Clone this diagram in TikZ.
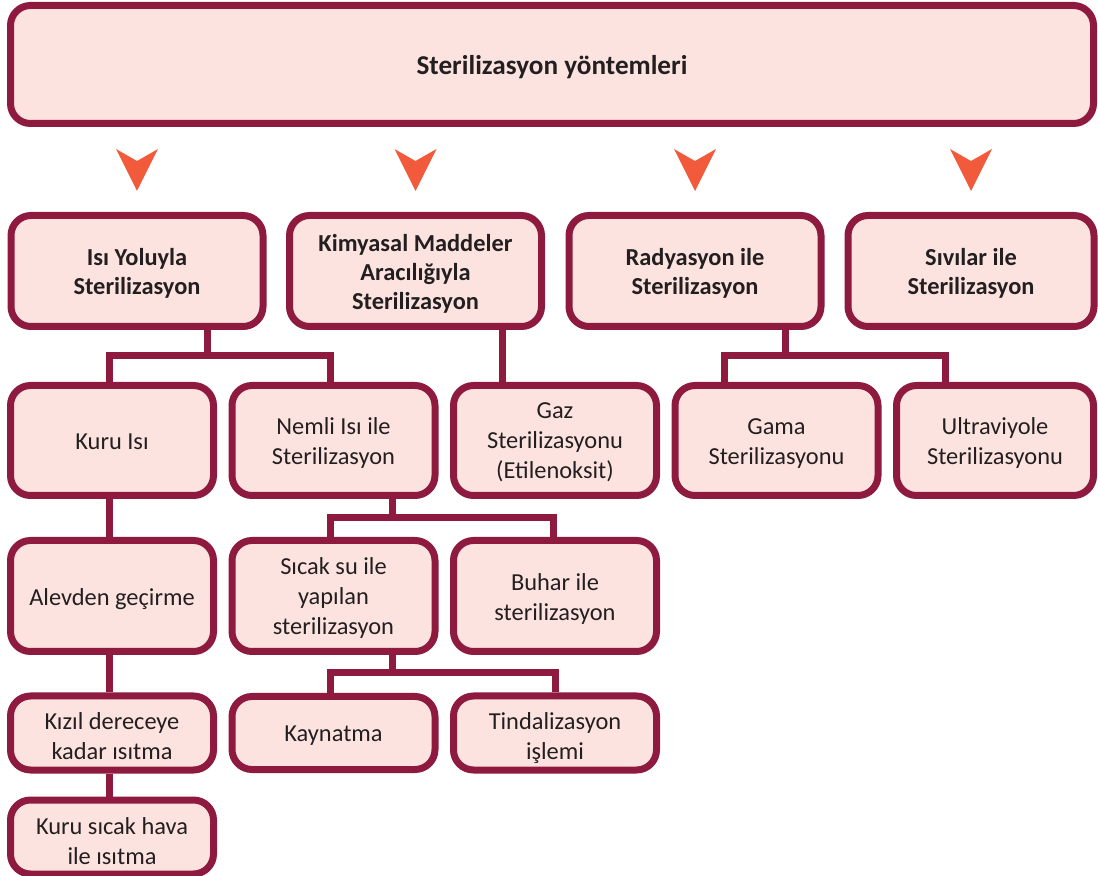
\documentclass[tikz,border=0pt]{standalone}
\usepackage{fontspec}
\setmainfont{Carlito}
\usepackage{tikz}
\usetikzlibrary{positioning,calc}
\definecolor{stmaroon}{HTML}{8E1A40}
\definecolor{stpink}{HTML}{FCE3E0}
\definecolor{storange}{HTML}{F15A3B}
\definecolor{sttext}{HTML}{231F20}
\tikzset{
  st/rows/.code={\def\strowh{#1}},
  st/box/.style={draw=stmaroon, fill=stpink, line width=3.5pt, rounded corners=10pt, align=center, inner sep=2pt, text=sttext,
    minimum width=101.5pt, minimum height=55pt, font=\fontsize{12.2}{15}\selectfont, st/rows=27.5pt,
    execute at begin node={\rule{0pt}{\strowh}}, execute at end node={\rule[-3pt]{0pt}{3pt}}},
  st/low/.style={st/box, minimum height=36.5pt, st/rows=30pt},
  st/head/.style={st/box, minimum width=126pt, minimum height=55.5pt, st/rows=27pt, font=\fontsize{12.2}{14.5}\selectfont\bfseries},
  st/title/.style={st/box, minimum width=541.5pt, minimum height=59pt, st/rows=13.5pt, font=\fontsize{13.6}{16}\selectfont\bfseries},
  st/line/.style={draw=stmaroon, line width=3.5pt},
  st/mark/.style={fill=storange}
}
\newcommand{\stmark}[1]{\fill[st/mark] (#1) ++(-21,0) -- ++(21,12) -- ++(21,-12) -- ++(-21,42) -- cycle;}

\begin{document}
\begin{tikzpicture}[x=0.5pt, y=-0.5pt]
  \useasboundingbox (0,0) rectangle (1098,876);
  \node[st/title] (top) at (552,64.5) {Sterilizasyon yöntemleri};

  \node[st/head] (isi) at (137,271) {Isı Yoluyla\\Sterilizasyon};
  \node[st/head, st/rows=41.5pt] (kim) at (415.5,271) {Kimyasal Maddeler\\Aracılığıyla\\Sterilizasyon};
  \node[st/head] (rad) at (695,271) {Radyasyon ile\\Sterilizasyon};
  \node[st/head, minimum width=123pt] (siv) at (971,271) {Sıvılar ile\\Sterilizasyon};
  \foreach \n in {isi,kim,rad,siv} {
    \coordinate (m-\n) at (\n.north |- 0,149);
    \stmark{m-\n}
  }

  \node[st/box, st/rows=12.5pt] (kuru) at (112,440.5) {Kuru Isı};
  \node[st/box] (nemli) at (333.5,440.5) {Nemli Isı ile\\Sterilizasyon};
  \node[st/box, st/rows=41.5pt] (gaz) at (555,440.5) {Gaz\\Sterilizasyonu\\(Etilenoksit)};
  \node[st/box] (gama) at (776.5,440.5) {Gama\\Sterilizasyonu};
  \node[st/box, minimum width=98.5pt] (ultra) at (995,440.5) {Ultraviyole\\Sterilizasyonu};

  \node[st/box, minimum height=55.5pt, st/rows=13pt] (alev) at (112,596) {Alevden geçirme};
  \node[st/box, minimum height=55.5pt, st/rows=42pt] (sicak) at (333.5,596) {Sıcak su ile\\yapılan\\sterilizasyon};
  \node[st/box, minimum height=55.5pt] (buhar) at (555,596) {Buhar ile\\sterilizasyon};

  \node[st/low] (kizil) at (112,733) {Kızıl dereceye\\kadar ısıtma};
  \node[st/low, st/rows=11.7pt] (kaynat) at (333.5,733) {Kaynatma};
  \node[st/low] (tindal) at (555,733) {Tindalizasyon\\işlemi};

  \node[st/low] (hava) at (112,837) {Kuru sıcak hava\\ile ısıtma};

  \coordinate (isiM) at (207,356);
  \coordinate (isiL) at (109,356);
  \coordinate (isiR) at (330,356);
  \draw[st/line] (isi.south -| isiM) -- (isiM);
  \draw[st/line] (kuru.north -| isiL) -- (isiL) -- (isiR) -- (nemli.north -| isiR);
  \foreach \a/\b in {kuru/alev, alev/kizil, kizil/hava}
    \draw[st/line] (\a.south -| isiL) -- (\b.north -| isiL);

  \coordinate (kimM) at (502,356);
  \draw[st/line] (kim.south -| kimM) -- (gaz.north -| kimM);

  \coordinate (radM) at (785,356);
  \coordinate (radL) at (724,356);
  \coordinate (radR) at (945,356);
  \draw[st/line] (rad.south -| radM) -- (radM);
  \draw[st/line] (gama.north -| radL) -- (radL) -- (radR) -- (ultra.north -| radR);

  \coordinate (nemM) at (392,518);
  \coordinate (nemL) at (330,518);
  \coordinate (nemR) at (553,518);
  \draw[st/line] (nemli.south -| nemM) -- (nemM);
  \draw[st/line] (sicak.north -| nemL) -- (nemL) -- (nemR) -- (buhar.north -| nemR);

  \coordinate (sicM) at (392,673);
  \coordinate (sicL) at (330,673);
  \coordinate (sicR) at (555,673);
  \draw[st/line] (sicak.south -| sicM) -- (sicM);
  \draw[st/line] (kaynat.north -| sicL) -- (sicL) -- (sicR) -- (tindal.north -| sicR);
\end{tikzpicture}
\end{document}
